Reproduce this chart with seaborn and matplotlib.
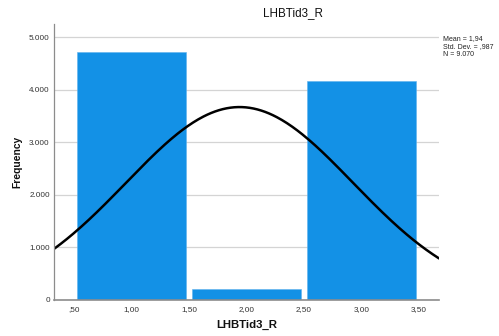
import numpy as np
import pandas as pd
import seaborn as sns
import matplotlib
matplotlib.use("Agg")
import matplotlib.pyplot as plt

# Response categories and their frequencies
categories = [1, 2, 3]
frequencies = [4710, 200, 4160]
bin_edges = [0.5, 1.5, 2.5, 3.5]

x_ticks = [0.5, 1.0, 1.5, 2.0, 2.5, 3.0, 3.5]
x_tick_labels = [",50", "1,00", "1,50", "2,00", "2,50", "3,00", "3,50"]
y_ticks = [0, 1000, 2000, 3000, 4000, 5000]
y_tick_labels = ["0", "1.000", "2.000", "3.000", "4.000", "5.000"]

sns.set_theme(style="white")
plt.rcParams["font.family"] = ["Liberation Sans", "DejaVu Sans"]

df = pd.DataFrame({"value": categories, "count": frequencies})
n = df["count"].sum()
mean = np.average(df["value"], weights=df["count"])
sd = np.sqrt(np.sum(df["count"] * (df["value"] - mean) ** 2) / (n - 1))

fig = plt.figure(figsize=(4.99, 3.36), dpi=100)
ax = fig.add_axes([0.1082, 0.1086, 0.7716, 0.82])

ax.set_xlim(0.326, 3.674)
ax.set_ylim(0, 5248)
ax.set_yticks(y_ticks)
ax.set_yticklabels(y_tick_labels)
ax.set_xticks(x_ticks)
ax.set_xticklabels(x_tick_labels)
ax.yaxis.grid(True, color="#d4d4d4", linewidth=0.9)
ax.set_axisbelow(True)

sns.histplot(data=df, x="value", weights="count", bins=bin_edges, shrink=0.94,
             color="#1391e6", alpha=1.0, edgecolor="#5fb2ee", linewidth=0.4, ax=ax)

# Normal curve scaled to the histogram (bin width 1)
xs = np.linspace(0.326, 3.674, 300)
curve = pd.DataFrame({"x": xs,
                      "y": n * 1.0 / (sd * np.sqrt(2 * np.pi)) * np.exp(-0.5 * ((xs - mean) / sd) ** 2)})
sns.lineplot(data=curve, x="x", y="y", color="black", linewidth=1.8, ax=ax)

for side in ["top", "right"]:
    ax.spines[side].set_visible(False)
ax.spines["left"].set_color("#8c8c8c")
ax.spines["bottom"].set_color("#8c8c8c")
ax.spines["left"].set_linewidth(0.9)
ax.spines["bottom"].set_linewidth(1.2)
ax.tick_params(axis="both", length=0, labelsize=5.9, labelcolor="#333333", pad=3.0)
ax.tick_params(axis="x", pad=4.5)

ax.set_xlabel("LHBTid3_R", fontsize=8.2, fontweight="bold", color="#111111", labelpad=5)
ax.set_ylabel("Frequency", fontsize=7.4, fontweight="bold", color="#111111", labelpad=5)

fig.text(0.587, 0.961, "LHBTid3_R", ha="center", va="center", fontsize=8.4, color="#111111")
fig.text(0.888, 0.895,
         "Mean = 1,94\nStd. Dev. = ,987\nN = 9.070",
         ha="left", va="top", fontsize=5.0, color="#222222", linespacing=1.15)

fig.savefig("out.png", dpi=100)
